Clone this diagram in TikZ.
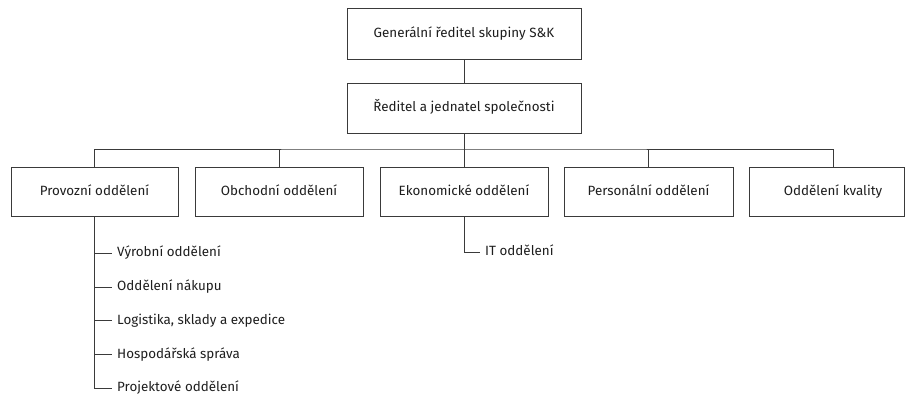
\documentclass[tikz,border=0pt]{standalone}
\usepackage{fontspec}
\setmainfont{Fira Sans}
\usetikzlibrary{calc}
\definecolor{linegray}{HTML}{3A3A3A}
\definecolor{textgray}{HTML}{1E1E1E}
\begin{document}
\begin{tikzpicture}[x=1pt,y=-1pt,
  every node/.style={font=\fontsize{13.4}{16}\selectfont, text=textgray},
  orgbox/.style={draw=linegray, line width=0.9pt, fill=white, inner sep=0pt,
    text height=0.7em, text depth=0pt},
  subitem/.style={anchor=west, inner sep=0pt, text height=0.7em, text depth=0pt},
  link/.style={draw=linegray, line width=0.9pt}]
\useasboundingbox (0,0) rectangle (905,399);

% management
\node[orgbox, minimum width=234, minimum height=51] (gen) at (464,33.5) {Generální ředitel skupiny S\&K};
\node[orgbox, minimum width=234, minimum height=50] (dir) at (464,108) {Ředitel a jednatel společnosti};

% departments
\node[orgbox, minimum width=167, minimum height=49] (d1) at (94.5,191.5) {Provozní oddělení};
\node[orgbox, minimum width=168, minimum height=49] (d2) at (279,191.5) {Obchodní oddělení};
\node[orgbox, minimum width=168, minimum height=49] (d3) at (464,191.5) {Ekonomické oddělení};
\node[orgbox, minimum width=169, minimum height=49] (d4) at (648.5,191.5) {Personální oddělení};
\node[orgbox, minimum width=155, minimum height=49] (d5) at (826.5,191.5) {};
\node[inner sep=0pt, text height=0.7em, text depth=0pt] (d5t) at (833,191.5) {Oddělení kvality};

% sections of the operations department
\node[subitem] (s1) at (117,253) {Výrobní oddělení};
\node[subitem] (s2) at (117,287) {Oddělení nákupu};
\node[subitem] (s3) at (117,320.5) {Logistika, sklady a expedice};
\node[subitem] (s4) at (117,354.5) {Hospodářská správa};
\node[subitem] (s5) at (117,388) {Projektové oddělení};

% section of the economic department
\node[subitem] (it) at (485,252) {IT oddělení};

% connectors
\coordinate (bus) at (464,149);
\draw[link] (gen) -- (dir);
\draw[link] (dir.south) -- (bus);
\draw[link] (d1.north) |- (bus) -| (d5t |- d5.north);
\draw[link] (d2.north) -- (d2.north |- bus);
\draw[link] (d3.north) -- (bus);
\draw[link] (d4.north) -- (d4.north |- bus);

\draw[link] (d1.south) -- (d1.south |- s5.west) -- ([xshift=-5pt]s5.west);
\foreach \s in {s1,s2,s3,s4}
  \draw[link] (d1.south |- \s.west) -- ([xshift=-5pt]\s.west);
\draw[link] (d3.south) |- ([xshift=-5pt]it.west);
\end{tikzpicture}
\end{document}
